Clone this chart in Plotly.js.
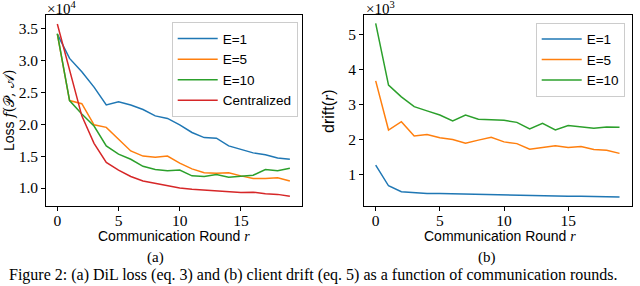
<!DOCTYPE html>
<html>
<head>
<meta charset="utf-8">
<script src="https://cdn.plot.ly/plotly-3.0.1.min.js"></script>
<style>html,body{margin:0;padding:0;background:#fff;}#chart{width:640px;height:286px;}</style>
</head>
<body>
<div id="chart"></div>
<script>
// Communication rounds
const rounds = [0,1,2,3,4,5,6,7,8,9,10,11,12,13,14,15,16,17,18,19];

// (a) Loss, in units of 1e4
const lossE1 = [3.41, 3.03, 2.82, 2.58, 2.30, 2.35, 2.30, 2.23, 2.13, 2.09, 1.99, 1.87, 1.79, 1.78, 1.66, 1.60, 1.55, 1.52, 1.47, 1.45];
const lossE5 = [3.41, 2.37, 2.32, 1.99, 1.95, 1.76, 1.58, 1.50, 1.48, 1.50, 1.39, 1.30, 1.24, 1.23, 1.24, 1.19, 1.15, 1.15, 1.16, 1.11];
const lossE10 = [3.42, 2.37, 2.16, 1.97, 1.66, 1.53, 1.45, 1.34, 1.29, 1.27, 1.28, 1.19, 1.18, 1.21, 1.17, 1.19, 1.20, 1.29, 1.27, 1.31];
const lossCentral = [3.57, 2.85, 2.13, 1.70, 1.40, 1.28, 1.18, 1.11, 1.07, 1.03, 1.00, 0.98, 0.97, 0.95, 0.94, 0.93, 0.935, 0.91, 0.90, 0.87];

// (b) Client drift, in units of 1e3
const driftE1 = [1.26, 0.67, 0.50, 0.47, 0.45, 0.45, 0.44, 0.43, 0.43, 0.42, 0.40, 0.40, 0.39, 0.38, 0.38, 0.37, 0.37, 0.36, 0.36, 0.35];
const driftE5 = [3.68, 2.27, 2.51, 2.10, 2.14, 2.05, 2.00, 1.89, 1.98, 2.06, 1.93, 1.88, 1.72, 1.77, 1.82, 1.77, 1.80, 1.71, 1.69, 1.60];
const driftE10 = [5.33, 3.56, 3.22, 2.94, 2.82, 2.70, 2.53, 2.70, 2.58, 2.57, 2.55, 2.49, 2.30, 2.46, 2.27, 2.40, 2.35, 2.32, 2.36, 2.35];

const names = ['E=1', 'E=5', 'E=10', 'Centralized'];
const colors = ['#1f77b4', '#ff7f0e', '#2ca02c', '#d62728'];
const xTicks = [0, 5, 10, 15, 20];
const lossTicks = [1.0, 1.5, 2.0, 2.5, 3.0, 3.5];
const driftTicks = [1, 2, 3, 4, 5];

const W = 640, H = 286;
const px = v => v / W, py = v => 1 - v / H;

function tr(y, i, xa, ya, leg) {
  return {x: rounds, y: y, type: 'scatter', mode: 'lines', name: names[i],
    line: {color: colors[i], width: 1.5}, xaxis: xa, yaxis: ya, legend: leg};
}

const data = [
  tr(lossE1, 0, 'x', 'y', 'legend'),
  tr(lossE5, 1, 'x', 'y', 'legend'),
  tr(lossE10, 2, 'x', 'y', 'legend'),
  tr(lossCentral, 3, 'x', 'y', 'legend'),
  tr(driftE1, 0, 'x2', 'y2', 'legend2'),
  tr(driftE5, 1, 'x2', 'y2', 'legend2'),
  tr(driftE10, 2, 'x2', 'y2', 'legend2')
];

const serif = '"Liberation Serif", "DejaVu Serif", serif';
const sans = '"Liberation Sans", "DejaVu Sans", sans-serif';
const tickFont = {family: serif, size: 15.5, color: '#000'};

const axBase = {showline: true, mirror: true, linecolor: '#000', linewidth: 1,
  ticks: 'outside', ticklen: 3.5, tickwidth: 1, tickcolor: '#000',
  showgrid: false, zeroline: false, tickfont: tickFont};

const legBase = {bgcolor: 'rgba(255,255,255,0.85)', bordercolor: '#cccccc', borderwidth: 1,
  font: {family: sans, size: 13.5, color: '#000'}, xanchor: 'left', yanchor: 'top',
  itemwidth: 40};

const layout = {
  width: W, height: H,
  margin: {l: 0, r: 0, t: 0, b: 0},
  paper_bgcolor: '#fff', plot_bgcolor: '#fff',
  showlegend: true,
  xaxis: Object.assign({}, axBase, {domain: [px(45.7), px(301.5)], range: [-0.95, 19.95],
    tickvals: xTicks, anchor: 'y', ticklabelstandoff: -3}),
  yaxis: Object.assign({}, axBase, {domain: [py(206), py(15)], range: [0.718, 3.71],
    tickvals: lossTicks, tickformat: '.1f', anchor: 'x'}),
  xaxis2: Object.assign({}, axBase, {domain: [px(363.5), px(631.7)], range: [-0.95, 19.95],
    tickvals: xTicks, anchor: 'y2', ticklabelstandoff: -3}),
  yaxis2: Object.assign({}, axBase, {domain: [py(206), py(15)], range: [0.09, 5.57],
    tickvals: driftTicks, anchor: 'x2'}),
  legend: Object.assign({}, legBase, {x: px(171.7), y: py(22.3)}),
  legend2: Object.assign({}, legBase, {x: px(535.7), y: py(22.7)}),
  annotations: [
    {text: '×10<sup>4</sup>', x: px(45), y: py(8), xref: 'paper', yref: 'paper',
      xanchor: 'left', yanchor: 'middle', showarrow: false, font: {family: serif, size: 15, color: '#000'}},
    {text: '×10<sup>3</sup>', x: px(364), y: py(8), xref: 'paper', yref: 'paper',
      xanchor: 'left', yanchor: 'middle', showarrow: false, font: {family: serif, size: 15, color: '#000'}},
    {text: 'Loss <i style="font-family:DejaVu Serif">f</i><span style="font-family:DejaVu Serif">(𝒫, 𝒜)</span>',
      x: px(9), y: py(111), xref: 'paper', yref: 'paper', textangle: -90,
      xanchor: 'center', yanchor: 'middle', showarrow: false, font: {family: sans, size: 14, color: '#000'}},
    {text: 'drift(<i style="font-family:Liberation Serif">r</i>)',
      x: px(328), y: py(111), xref: 'paper', yref: 'paper', textangle: -90,
      xanchor: 'center', yanchor: 'middle', showarrow: false, font: {family: sans, size: 16, color: '#000'}},
    {text: 'Communication Round <i style="font-family:Liberation Serif">r</i>',
      x: px(173.5), y: py(236), xref: 'paper', yref: 'paper',
      xanchor: 'center', yanchor: 'middle', showarrow: false, font: {family: sans, size: 14, color: '#000'}},
    {text: 'Communication Round <i style="font-family:Liberation Serif">r</i>',
      x: px(500), y: py(236), xref: 'paper', yref: 'paper',
      xanchor: 'center', yanchor: 'middle', showarrow: false, font: {family: sans, size: 14, color: '#000'}},
    {text: '(a)', x: px(155), y: py(257), xref: 'paper', yref: 'paper',
      xanchor: 'center', yanchor: 'middle', showarrow: false, font: {family: serif, size: 15, color: '#000'}},
    {text: '(b)', x: px(487), y: py(257), xref: 'paper', yref: 'paper',
      xanchor: 'center', yanchor: 'middle', showarrow: false, font: {family: serif, size: 15, color: '#000'}},
    {text: 'Figure 2: (a) DiL loss (eq. 3) and (b) client drift (eq. 5) as a function of communication rounds.',
      x: px(7), y: 0, xref: 'paper', yref: 'paper',
      xanchor: 'left', yanchor: 'bottom', showarrow: false, font: {family: serif, size: 16, color: '#000'}}
  ]
};

Plotly.newPlot('chart', data, layout, {staticPlot: true, displayModeBar: false});
</script>
</body>
</html>
